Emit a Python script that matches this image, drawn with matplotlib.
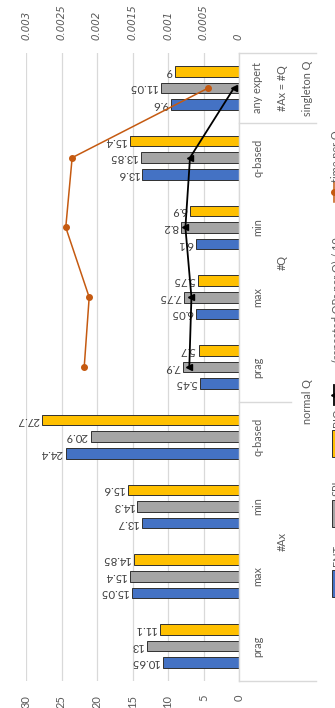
import numpy as np
import matplotlib
matplotlib.use("Agg")
import matplotlib.pyplot as plt
from matplotlib.patches import Rectangle
from matplotlib.lines import Line2D

plt.rcParams['font.family'] = ['Lato', 'DejaVu Sans']

# categories from bottom to top
categories = ["prag", "max", "min", "q-based",
              "prag", "max", "min", "q-based",
              "any expert"]
groups = [("#Ax", 0, 3), ("#Q", 4, 7), ("#Ax = #Q", 8, 8)]
supergroups = [("normal Q", 0, 7), ("singleton Q", 8, 8)]

ent = [10.65, 15.05, 13.7, 24.4, 5.45, 6.05, 6.1, 13.6, 9.6]
spl = [13, 15.4, 14.3, 20.9, 7.9, 7.75, 8.2, 13.85, 11.05]
bio = [11.1, 14.85, 15.6, 27.7, 5.7, 5.75, 6.9, 15.4, 9]

nan = np.nan
rep_qps = [nan, nan, nan, nan, 7.0, 6.7, 7.55, 6.9, 0.7]
time_per_q = [nan, nan, nan, nan, 0.00218, 0.00211, 0.00244, 0.00235, 0.00043]

val_ticks = [0, 5, 10, 15, 20, 25, 30]
sec_ticks = [0, 0.0005, 0.001, 0.0015, 0.002, 0.0025, 0.003]
sec_labels = ["0", "0.0005", "0.001", "0.0015", "0.002", "0.0025", "0.003"]

GRAY_TXT = '#595959'
GRID = '#d9d9d9'
C_ENT, C_SPL, C_BIO = '#4472C4', '#A5A5A5', '#FFC000'
C_TIME = '#C55A11'
EDGE = '#303030'

W, H = 335, 708
fig = plt.figure(figsize=(W / 100, H / 100), dpi=100)
fig.patch.set_facecolor('white')

ax = fig.add_axes([26 / W, 27 / H, 213 / W, 628 / H])
ax.set_xlim(30, 0)
ax.set_ylim(-0.5, 8.5)
ax.set_xticks(val_ticks)
ax.set_xticklabels([str(t) for t in val_ticks])
ax.set_yticks([])
ax.xaxis.grid(True, color=GRID, lw=0.9)
ax.set_axisbelow(True)
ax.tick_params(axis='x', length=0, pad=10, labelsize=8, labelcolor=GRAY_TXT,
               labelrotation=90)
for s in ['top', 'bottom', 'left']:
    ax.spines[s].set_visible(False)
ax.spines['right'].set_color(GRID)
ax.spines['right'].set_linewidth(1.0)

y = np.arange(len(categories))
off, h = 0.238, 0.152
for vals, dy, col in [(ent, -off, C_ENT), (spl, 0, C_SPL), (bio, off, C_BIO)]:
    ax.barh(y + dy, vals, height=h, color=col, edgecolor=EDGE, lw=0.7, zorder=2)
    for yy, v in zip(y + dy, vals):
        ax.annotate(f"{v:g}", (v, yy), xytext=(-2, 0), textcoords='offset points',
                    rotation=180, ha='right', va='center', fontsize=8.2,
                    color='#404040')

# repeated QPs per Q, primary scale
ax.plot(rep_qps, y, color='black', lw=1.3, marker='<', ms=5, zorder=4)

# time per Q on the secondary scale
ax2 = ax.twiny()
ax2.set_xlim(0.003, 0)
ax2.set_xticks(sec_ticks)
ax2.set_xticklabels(sec_labels, family='DejaVu Sans', fontstyle='oblique')
ax2.tick_params(axis='x', length=0, pad=9, labelsize=7.3, labelcolor=GRAY_TXT,
                labelrotation=90)
for s in ax2.spines.values():
    s.set_visible(False)
ax2.plot(time_per_q, y, color=C_TIME, lw=1.1, marker='o', ms=4, zorder=4)

# multi-level category labels
tr = ax.get_yaxis_transform()
lkw = dict(transform=tr, rotation=90, ha='center', va='center',
           fontsize=7.8, color=GRAY_TXT, clip_on=False)
for i, c in enumerate(categories):
    ax.text(1.088, i, c, **lkw)
for name, a, b in groups:
    ax.text(1.204, (a + b) / 2, name, **lkw)
for name, a, b in supergroups:
    ax.text(1.32, (a + b) / 2, name, **lkw)

for yb, xe in [(-0.5, 1.362), (3.5, 1.244), (7.5, 1.362), (8.5, 1.362)]:
    ax.plot([1.0, xe], [yb, yb], transform=tr, color=GRID, lw=1.0, clip_on=False)

# legend, running bottom to top along the right edge
def fy(py):
    return 1 - py / H

leg_kw = dict(rotation=90, ha='center', va='center', fontsize=7.8,
              color=GRAY_TXT, transform=fig.transFigure)
for col, p0, p1, name, ty in [(C_ENT, 570, 597, "ENT", 555),
                              (C_SPL, 500, 527, "SPL", 487),
                              (C_BIO, 430, 457, "BIO", 418)]:
    fig.patches.append(Rectangle((331.5 / W, fy(p1)), 8 / W, (p1 - p0) / H,
                                 transform=fig.transFigure, facecolor=col,
                                 edgecolor=EDGE, lw=0.7))
    fig.text(337 / W, fy(ty), name, **leg_kw)

fig.lines.append(Line2D([334 / W, 334 / W], [fy(405), fy(385)], color='black',
                        lw=1.3, transform=fig.transFigure))
fig.lines.append(Line2D([334 / W], [fy(395)], color='black',
                        lw=0, marker='<', ms=5, transform=fig.transFigure))
fig.text(337 / W, fy(300), "(repeated QPs per Q) / 10", **leg_kw)

fig.lines.append(Line2D([334 / W, 334 / W], [fy(202), fy(182)], color=C_TIME,
                        lw=1.1, transform=fig.transFigure))
fig.lines.append(Line2D([334 / W], [fy(192)], color=C_TIME, lw=0, marker='o',
                        ms=4, transform=fig.transFigure))
fig.text(337 / W, fy(156), "time per Q", **leg_kw)

fig.savefig("out.png", dpi=100)
